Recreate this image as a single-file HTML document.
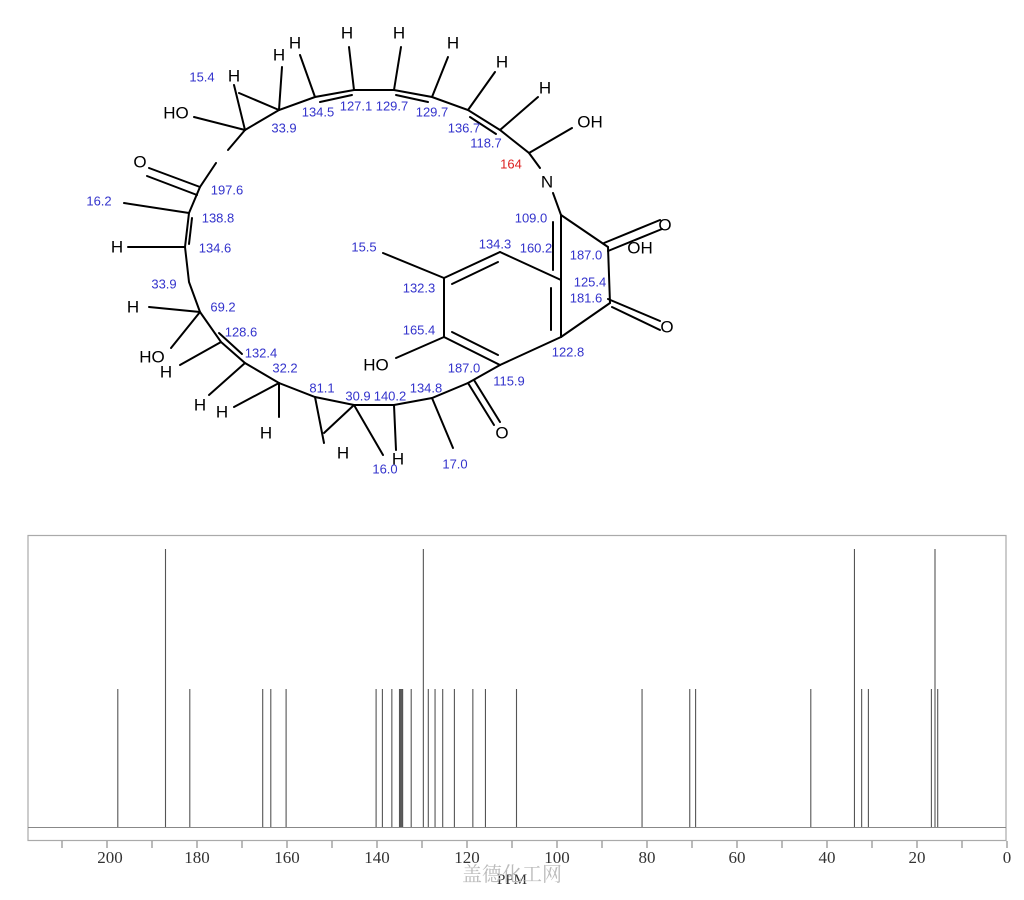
<!DOCTYPE html>
<html><head><meta charset="utf-8"><style>
html,body{margin:0;padding:0;background:#fff;}
svg{display:block;}
.b{fill:#3333cc;font-family:"Liberation Sans",sans-serif;font-size:13px;text-anchor:middle;dominant-baseline:central;}
.k{fill:#000;font-family:"Liberation Sans",sans-serif;font-size:17px;text-anchor:middle;dominant-baseline:central;}
.t{fill:#333;font-family:"Liberation Serif",serif;font-size:17px;text-anchor:middle;}
</style></head><body>
<svg id="s" width="1024" height="900" xmlns="http://www.w3.org/2000/svg">
<g stroke="#000" stroke-width="2" fill="none" stroke-linecap="round">
<polyline points="216,163 200,187 189,213 185,247 189,282 200,312 221,342 245,363 279,383 315,397 354,405 394,405 432,398 468,383 500,365"/>
<polyline points="245,130 279,110 315,97 354,90 394,90 432,97 468,110 500,130 529,153 540,168"/>
<line x1="245" y1="130" x2="228" y2="150"/>
<line x1="553" y1="193" x2="561" y2="215"/>
<line x1="561" y1="215" x2="561" y2="280"/>
<line x1="561" y1="280" x2="561" y2="337"/>
<line x1="561" y1="337" x2="500" y2="365"/>
<line x1="500" y1="365" x2="444" y2="337"/>
<line x1="444" y1="337" x2="444" y2="278"/>
<line x1="444" y1="278" x2="500" y2="252"/>
<line x1="500" y1="252" x2="561" y2="280"/>
<line x1="551" y1="288" x2="551" y2="330"/>
<line x1="452" y1="284" x2="498" y2="262"/>
<line x1="452" y1="332" x2="498" y2="355"/>
<line x1="553" y1="222" x2="553" y2="270"/>
<line x1="444" y1="278" x2="383" y2="253"/>
<line x1="444" y1="337" x2="396" y2="358"/>
<line x1="561" y1="215" x2="608" y2="247"/>
<line x1="604" y1="243" x2="660" y2="220"/><line x1="608" y1="251" x2="662" y2="229"/>
<line x1="608" y1="247" x2="610" y2="303"/>
<line x1="610" y1="303" x2="561" y2="337"/>
<line x1="608" y1="299" x2="660" y2="321"/><line x1="612" y1="307" x2="660" y2="330"/>
<line x1="320" y1="102" x2="352" y2="95"/><line x1="396" y1="95" x2="428" y2="102"/><line x1="470" y1="117" x2="496" y2="134"/>
<line x1="192" y1="218" x2="189" y2="244"/><line x1="219" y1="333" x2="242" y2="354"/>
<line x1="245" y1="130" x2="194" y2="117"/>
<line x1="245" y1="130" x2="234" y2="85"/>
<line x1="279" y1="110" x2="239" y2="93"/>
<line x1="279" y1="110" x2="282" y2="67"/>
<line x1="315" y1="97" x2="300" y2="55"/>
<line x1="354" y1="90" x2="349" y2="47"/>
<line x1="394" y1="90" x2="401" y2="47"/>
<line x1="432" y1="97" x2="448" y2="57"/>
<line x1="468" y1="110" x2="495" y2="72"/>
<line x1="500" y1="130" x2="538" y2="97"/>
<line x1="529" y1="153" x2="572" y2="128"/>
<line x1="200" y1="187" x2="149" y2="168"/><line x1="197" y1="195" x2="147" y2="176"/>
<line x1="189" y1="213" x2="124" y2="203"/>
<line x1="185" y1="247" x2="128" y2="247"/>
<line x1="200" y1="312" x2="149" y2="307"/>
<line x1="200" y1="312" x2="171" y2="348"/>
<line x1="221" y1="342" x2="180" y2="365"/>
<line x1="245" y1="363" x2="209" y2="395"/>
<line x1="279" y1="383" x2="234" y2="407"/>
<line x1="279" y1="383" x2="279" y2="417"/>
<line x1="315" y1="397" x2="324" y2="443"/>
<line x1="354" y1="405" x2="324" y2="433"/>
<line x1="354" y1="405" x2="383" y2="455"/>
<line x1="394" y1="405" x2="396" y2="450"/>
<line x1="432" y1="398" x2="453" y2="448"/>
<line x1="468" y1="383" x2="494" y2="425"/><line x1="474" y1="380" x2="500" y2="422"/>
</g>
<g>
<text class="k" x="176" y="113">HO</text><text class="k" x="234" y="76">H</text><text class="k" x="279" y="55">H</text>
<text class="k" x="295" y="43">H</text><text class="k" x="347" y="33">H</text><text class="k" x="399" y="33">H</text>
<text class="k" x="453" y="43">H</text><text class="k" x="502" y="62">H</text><text class="k" x="545" y="88">H</text>
<text class="k" x="590" y="122">OH</text><text class="k" x="547" y="182">N</text><text class="k" x="140" y="162">O</text>
<text class="k" x="117" y="247">H</text><text class="k" x="133" y="307">H</text><text class="k" x="152" y="357">HO</text>
<text class="k" x="166" y="372">H</text><text class="k" x="200" y="405">H</text><text class="k" x="222" y="412">H</text>
<text class="k" x="266" y="433">H</text><text class="k" x="343" y="453">H</text><text class="k" x="398" y="459">H</text>
<text class="k" x="502" y="433">O</text><text class="k" x="376" y="365">HO</text>
<text class="k" x="665" y="225">O</text><text class="k" x="640" y="248">OH</text><text class="k" x="667" y="327">O</text>
</g>
<g>
<text class="b" x="202" y="77">15.4</text><text class="b" x="318" y="112">134.5</text><text class="b" x="356" y="106">127.1</text>
<text class="b" x="392" y="106">129.7</text><text class="b" x="432" y="112">129.7</text><text class="b" x="284" y="128">33.9</text>
<text class="b" x="464" y="128">136.7</text><text class="b" x="486" y="143">118.7</text>
<text class="b" x="511" y="164" style="fill:#d22">164</text>
<text class="b" x="227" y="190">197.6</text><text class="b" x="99" y="201">16.2</text><text class="b" x="218" y="218">138.8</text>
<text class="b" x="215" y="248">134.6</text><text class="b" x="364" y="247">15.5</text><text class="b" x="495" y="244">134.3</text>
<text class="b" x="536" y="248">160.2</text><text class="b" x="531" y="218">109.0</text><text class="b" x="586" y="255">187.0</text>
<text class="b" x="590" y="282">125.4</text><text class="b" x="586" y="298">181.6</text><text class="b" x="419" y="288">132.3</text>
<text class="b" x="164" y="284">33.9</text><text class="b" x="223" y="307">69.2</text><text class="b" x="419" y="330">165.4</text>
<text class="b" x="241" y="332">128.6</text><text class="b" x="261" y="353">132.4</text><text class="b" x="285" y="368">32.2</text>
<text class="b" x="568" y="352">122.8</text><text class="b" x="464" y="368">187.0</text><text class="b" x="509" y="381">115.9</text>
<text class="b" x="322" y="388">81.1</text><text class="b" x="358" y="396">30.9</text><text class="b" x="390" y="396">140.2</text>
<text class="b" x="426" y="388">134.8</text><text class="b" x="385" y="469">16.0</text><text class="b" x="455" y="464">17.0</text>
</g>
<rect x="28" y="535.5" width="978" height="305" fill="none" stroke="#aaa" stroke-width="1.2"/>
<line x1="28" y1="827.5" x2="1006" y2="827.5" stroke="#888" stroke-width="1"/>
<g id="pk" stroke="#555" stroke-width="1.1"></g>
<g id="tk" stroke="#777" stroke-width="1"></g>
<g>
<text class="t" x="110" y="863">200</text><text class="t" x="197" y="863">180</text><text class="t" x="287" y="863">160</text>
<text class="t" x="377" y="863">140</text><text class="t" x="467" y="863">120</text><text class="t" x="557" y="863">100</text>
<text class="t" x="647" y="863">80</text><text class="t" x="737" y="863">60</text><text class="t" x="827" y="863">40</text>
<text class="t" x="917" y="863">20</text><text class="t" x="1007" y="863">0</text>
<text class="t" x="512" y="884" style="font-size:15px">PPM</text>
<text x="512" y="881" style="fill:#bbb;font-family:'Liberation Serif','Noto Serif CJK SC',serif;font-size:20px;text-anchor:middle">盖德化工网</text>
</g>
</svg>
<script>
(function(){
var X=function(p){return 1007-4.5*p;};
var ns="http://www.w3.org/2000/svg";
var tall=[187.0,129.7,33.9,16.0];
var med=[197.6,181.6,165.4,163.6,160.2,140.2,138.8,136.7,135.0,134.8,134.6,134.4,134.3,132.4,128.6,127.1,125.4,122.8,118.7,115.9,109.0,81.1,70.5,69.2,43.6,32.3,30.8,16.8,15.4];
var g=document.getElementById('pk');
function L(p,top){var l=document.createElementNS(ns,'line');var x=X(p);l.setAttribute('x1',x);l.setAttribute('x2',x);l.setAttribute('y1',top);l.setAttribute('y2',827);g.appendChild(l);}
tall.forEach(function(p){L(p,549);});med.forEach(function(p){L(p,689);});
var t=document.getElementById('tk');
for(var p=0;p<=210;p+=10){var l=document.createElementNS(ns,'line');var x=X(p);l.setAttribute('x1',x);l.setAttribute('x2',x);l.setAttribute('y1',841);l.setAttribute('y2',848);t.appendChild(l);}
})();
</script>
</body></html>
